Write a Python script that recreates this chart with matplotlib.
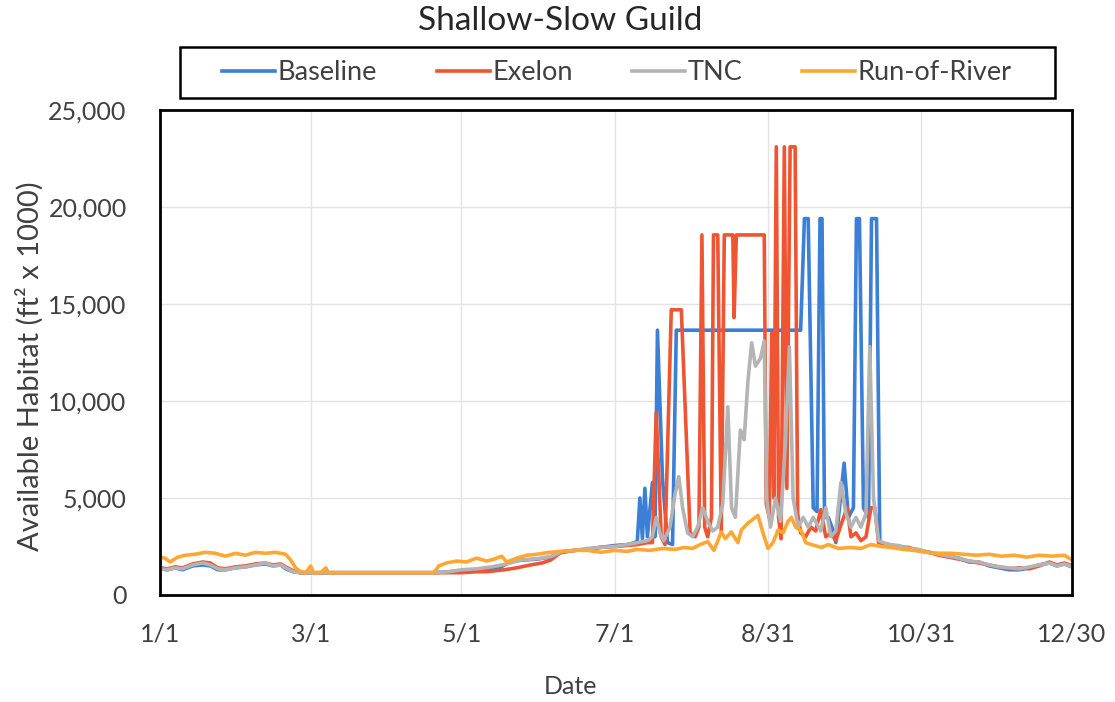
import numpy as np
import matplotlib.pyplot as plt
from matplotlib.patches import Rectangle

# day of year (0 = 1/1) and habitat values (ft2 x 1000)
base_days = [0, 3, 6, 9, 13, 17, 20, 23, 26, 30, 34, 38, 42, 45, 48, 50, 53, 56,
             109, 115, 120, 126, 130, 135, 140, 145, 150, 155, 160, 165, 170, 175, 181,
             186, 189, 190, 191, 192, 193, 194, 196, 197, 198, 200, 202, 204, 205.5,
             255, 256.5, 258, 260, 261.5, 262.7, 263.5, 264.5, 266, 268, 269, 272.3,
             274, 276, 277.2, 278.4, 280, 282, 283.2, 285.2, 286.5,
             290, 294, 298, 302, 306, 310, 314, 318, 322, 326, 330, 334, 338, 342,
             346, 350, 354, 357, 360, 363]
base_vals = [1350, 1300, 1400, 1300, 1500, 1550, 1500, 1300, 1300, 1400, 1450, 1550, 1600,
             1500, 1550, 1350, 1200, 1150,
             1150, 1200, 1250, 1300, 1300, 1400, 1750, 1800, 1850, 1950, 2200, 2300, 2350,
             2450, 2550,
             2600, 2700, 2800, 5000, 2900, 5500, 3000, 5800, 3000, 13650, 6000, 2700,
             2600, 13650,
             13650, 19400, 19400, 4500, 4300, 19400, 19400, 4000, 4000, 3300, 2700, 6800,
             4000, 4500, 19400, 19400, 4500, 4000, 19400, 19400, 2700,
             2600, 2500, 2400, 2300, 2200, 2100, 2000, 1900, 1700, 1700, 1500, 1400, 1300,
             1300, 1400, 1550, 1650, 1500, 1600, 1450]

exel_days = [0, 3, 6, 9, 13, 17, 20, 23, 26, 30, 34, 38, 42, 45, 48, 50, 53, 56,
             109, 115, 120, 126, 130, 137, 142, 147.5, 152, 155.5, 159.5, 165, 170, 175, 181,
             186, 190, 194, 196, 197.5, 199.5, 201, 203.5, 207.5, 211, 213, 214.5,
             215.7, 216.8, 218, 219.5, 220.3, 222, 223.4, 224.6, 228, 228.5, 229.4,
             240.5, 241.3, 242.5, 243.5, 244.3, 245.3, 246.2, 247.2, 248.5, 249.5,
             250.8, 252.8, 253.8, 255, 257, 259, 261, 263, 265, 267, 269, 271, 273.5,
             275, 277, 279, 281, 283, 284.5, 286,
             290, 294, 298, 302, 306, 310, 314, 318, 322, 326, 330, 334, 338, 342,
             346, 350, 354, 357, 360, 363]
exel_vals = [1400, 1350, 1450, 1400, 1600, 1700, 1650, 1400, 1350, 1450, 1500, 1600, 1650,
             1550, 1600, 1450, 1250, 1150,
             1150, 1150, 1150, 1200, 1200, 1300, 1400, 1550, 1650, 1800, 2200, 2300, 2350,
             2450, 2500,
             2550, 2600, 2700, 2700, 9400, 3000, 2600, 14700, 14700, 3200, 3000, 3500,
             18560, 3500, 3000, 4000, 18560, 18560, 3300, 18560, 18560, 14300, 18560,
             18560, 4700, 4000, 13500, 5000, 23100, 4000, 2900, 23100, 5500,
             23100, 23100, 4200, 3200, 3000, 3500, 3300, 4400, 3000, 3200, 2800, 3600, 4500,
             3000, 3200, 2800, 3000, 4500, 4500, 2700,
             2600, 2500, 2450, 2300, 2200, 2050, 1950, 1850, 1750, 1650, 1550, 1450, 1350,
             1400, 1350, 1500, 1700, 1550, 1650, 1500]

tnc_days = [0, 3, 6, 9, 13, 17, 20, 23, 26, 30, 34, 38, 42, 45, 48, 50, 53, 56,
            109, 115, 120, 126, 132, 138, 143.5, 148, 152, 156, 160, 165, 170, 175, 181,
            186, 190, 194, 196, 197.5, 199, 200.5, 203, 205, 206.5, 208, 210, 212, 214,
            216, 218, 220, 222, 224, 226, 227.5, 229, 231, 232.5, 234, 235.5, 237, 239,
            240.5, 241.5, 243, 245, 247, 249, 250.5, 252, 254, 256, 258, 260, 263, 265,
            267, 269, 271, 273, 275, 277, 279, 281, 282.5, 284, 286,
            290, 294, 298, 302, 306, 310, 314, 318, 322, 326, 330, 334, 338, 342,
            346, 350, 354, 357, 360, 363]
tnc_vals = [1350, 1300, 1400, 1350, 1550, 1650, 1550, 1350, 1300, 1400, 1450, 1550, 1650,
            1500, 1550, 1400, 1200, 1150,
            1150, 1200, 1300, 1350, 1450, 1600, 1800, 1850, 1900, 2000, 2250, 2300, 2400,
            2450, 2500,
            2600, 2700, 2800, 3000, 4000, 3200, 2800, 3500, 5200, 6100, 4500, 3200, 3000,
            3500, 4500, 3800, 3300, 3500, 4700, 9700, 4500, 4000, 8500, 8000, 11000, 13000,
            11800, 12200, 13100, 4900, 3500, 5000, 3800, 8000, 12800, 5000, 3500, 4000,
            3500, 4000, 3300, 4500, 3000, 3300, 5800, 4200, 3500, 4000, 3500, 4200, 12800,
            5000, 2800,
            2600, 2550, 2400, 2350, 2200, 2100, 2000, 1900, 1750, 1700, 1550, 1450, 1400,
            1350, 1450, 1550, 1650, 1500, 1600, 1450]

ror_days = [0, 2, 4, 7, 10, 14, 18, 22, 26, 30, 34, 38, 42, 46, 50, 52, 54, 56, 58, 60,
            61, 64, 66, 67, 109, 111, 114, 118, 122, 126, 130, 133, 136, 138, 142, 146,
            150, 155, 160, 165, 170, 175.5, 181, 186, 190, 195, 200, 205, 208.5, 212, 215,
            218, 220.5, 223.4, 225, 227.4, 230, 231.4, 234, 238, 240, 242, 244, 246, 248,
            250, 251.3, 253, 255.3, 257, 259.3, 263.3, 266, 270, 275, 279, 283, 287, 291,
            296, 300, 305, 310, 315, 320, 325, 330, 335, 340, 345, 350, 355, 360, 363]
ror_vals = [1950, 1900, 1700, 1950, 2050, 2100, 2200, 2150, 2000, 2150, 2050, 2200, 2150,
            2200, 2100, 1800, 1400, 1200, 1150, 1500, 1150, 1150, 1400, 1150, 1150, 1500,
            1650, 1750, 1700, 1900, 1750, 1850, 2000, 1700, 1900, 2050, 2100, 2200, 2250,
            2300, 2300, 2200, 2300, 2250, 2350, 2300, 2400, 2350, 2450, 2400, 2600, 2750,
            2300, 3250, 2900, 3250, 2700, 3350, 3700, 4100, 3200, 2400, 2700, 3350, 3200,
            3800, 4000, 3500, 3300, 2700, 2600, 2450, 2600, 2400, 2450, 2400, 2600, 2500,
            2450, 2350, 2300, 2200, 2150, 2150, 2100, 2050, 2100, 2000, 2050, 1950, 2050,
            2000, 2050, 1800]

tick_days = [0, 60, 120, 181, 242, 303, 363]
tick_labels = ['1/1', '3/1', '5/1', '7/1', '8/31', '10/31', '12/30']
y_ticks = [0, 5000, 10000, 15000, 20000, 25000]

plt.rcParams['font.family'] = ['Lato', 'DejaVu Sans']
txt = '#404040'

fig = plt.figure(figsize=(11.15, 7.02), dpi=100)
ax = fig.add_axes([160/1115, 107/702, 912/1115, 485/702])

lw = 2.6
ax.plot(base_days, base_vals, color='#3b7fd6', lw=lw, label='Baseline')
ax.plot(exel_days, exel_vals, color='#ef5433', lw=lw, label='Exelon')
ax.plot(tnc_days, tnc_vals, color='#b4b4b4', lw=lw, label='TNC')
ax.plot(ror_days, ror_vals, color='#ffa733', lw=lw, label='Run-of-River')

ax.set_xlim(0, 363)
ax.set_ylim(0, 25000)
ax.set_xticks(tick_days)
ax.set_xticklabels(tick_labels)
ax.set_yticks(y_ticks)
ax.set_yticklabels(['{:,}'.format(v) for v in y_ticks])
ax.tick_params(length=0, labelsize=18, colors=txt)
ax.tick_params(axis='y', pad=24)
ax.tick_params(axis='x', pad=20)
ax.grid(color='#e3e3e3', lw=1)
ax.set_axisbelow(True)
for s in ax.spines.values():
    s.set_color('black')
    s.set_linewidth(2)

ax.set_xlabel('Date', fontsize=18, color=txt)
ax.xaxis.set_label_coords(0.45, -0.165)
ax.set_ylabel('Available Habitat (ft\u00b2 x 1000)', fontsize=21, color=txt)
ax.yaxis.set_label_coords(-0.143, 0.472)
ax.yaxis.label.set_va('center')

fig.text(560/1115, 1 - 21/702, 'Shallow-Slow Guild', fontsize=24, color='#262626',
         ha='center', va='center')

# legend box
fig.patches.append(Rectangle((180/1115, (702-98)/702), 875/1115, 51/702,
                             transform=fig.transFigure, fill=False,
                             edgecolor='black', lw=1.8))
leg = fig.legend(loc='center', ncol=4, bbox_to_anchor=(617/1115, 1 - 73/702),
                 fontsize=19.5, handlelength=1.95, handletextpad=0.1,
                 columnspacing=2.2, frameon=False, borderaxespad=0)
for t in leg.get_texts():
    t.set_color(txt)

fig.savefig('out.png', dpi=100)
